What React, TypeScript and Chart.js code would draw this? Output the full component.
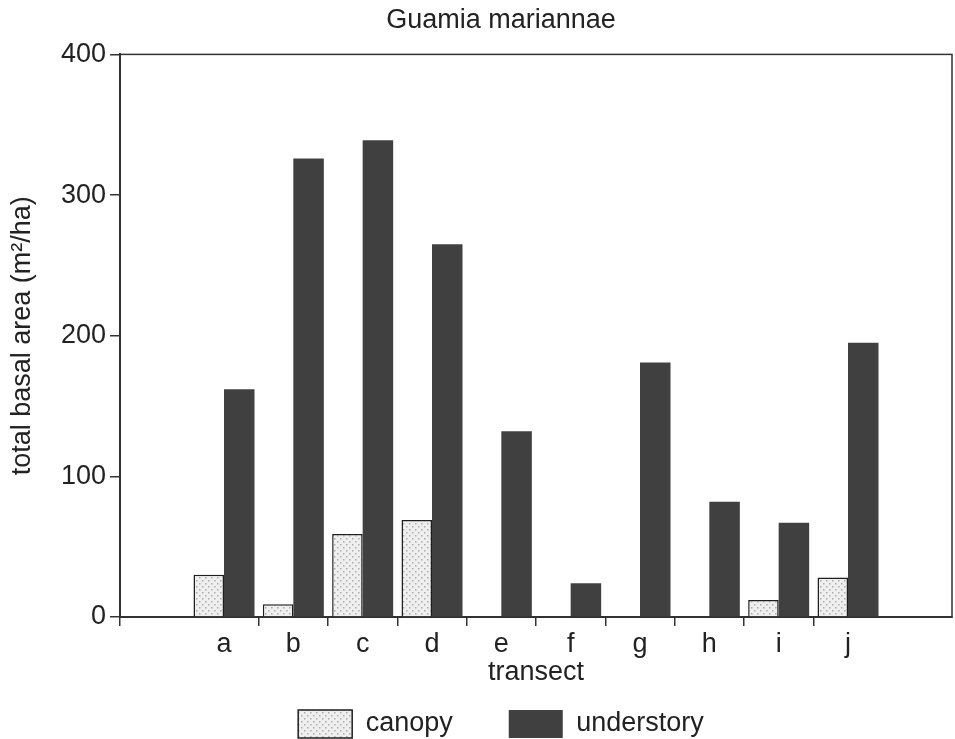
import React, { useEffect, useRef } from 'react';
import { Chart, registerables } from 'chart.js';

Chart.register(...registerables);

const chartTitle = 'Guamia mariannae';
const categories = ['a', 'b', 'c', 'd', 'e', 'f', 'g', 'h', 'i', 'j'];
const canopy = [30, 9, 59, 69, 0, 0, 0, 0, 12, 28];
const understory = [162, 326, 339, 265, 132, 24, 181, 82, 67, 195];
const yTickValues = [0, 100, 200, 300, 400];
const seriesNames = ['canopy', 'understory'];
const xTitle = 'transect';
const yTitle = 'total basal area (m²/ha)';

const FONT = "'Liberation Sans', Arial, Helvetica, sans-serif";
const INK = '#222222';

function makeStipple(): CanvasPattern | string {
  const c = document.createElement('canvas');
  c.width = 6;
  c.height = 6;
  const g = c.getContext('2d');
  if (!g) return '#e6e6e6';
  g.fillStyle = '#efefef';
  g.fillRect(0, 0, 6, 6);
  g.fillStyle = '#acacac';
  g.fillRect(1, 1, 1.5, 1.5);
  g.fillRect(4, 4, 1.5, 1.5);
  const p = g.createPattern(c, 'repeat');
  return p || '#e6e6e6';
}

const framePlugin = {
  id: 'plotFrame',
  beforeDatasetsDraw(chart: any) {
    const { ctx, chartArea } = chart;
    const { left, top, right, bottom } = chartArea;
    ctx.save();
    ctx.strokeStyle = '#333';
    ctx.lineWidth = 1.5;
    ctx.strokeRect(left, top, right - left, bottom - top);
    ctx.restore();
  },
};

export default function App() {
  const ref = useRef<HTMLCanvasElement | null>(null);

  useEffect(() => {
    if (!ref.current) return;
    const stipple = makeStipple();
    const labels = ['', ...categories, ''];
    const pad = (arr: number[]) => [null, ...arr, null];
    const chart = new Chart(ref.current, {
      type: 'bar',
      data: {
        labels,
        datasets: [
          {
            label: seriesNames[0],
            data: pad(canopy),
            backgroundColor: stipple as any,
            borderColor: '#1e1e1e',
            borderWidth: 1.5,
            categoryPercentage: 0.88,
            barPercentage: 1.0,
          },
          {
            label: seriesNames[1],
            data: pad(understory),
            backgroundColor: '#404040',
            borderColor: '#404040',
            borderWidth: 0,
            categoryPercentage: 0.88,
            barPercentage: 1.0,
          },
        ],
      },
      options: {
        responsive: false,
        animation: false,
        font: { family: FONT },
        layout: { padding: 0 },
        plugins: {
          title: {
            display: true,
            text: chartTitle,
            color: INK,
            font: { family: FONT, size: 27, weight: 'normal' },
            padding: { top: 4, bottom: 18 },
          },
          legend: {
            display: true,
            position: 'bottom',
            labels: {
              color: INK,
              font: { family: FONT, size: 27 },
              boxWidth: 54,
              boxHeight: 28,
              padding: 2,
              generateLabels: (ch: any) => {
                const items = (Chart.defaults as any).plugins.legend.labels.generateLabels(ch);
                items.forEach((it: any, i: number) => {
                  if (i < items.length - 1) it.text = it.text + '\u2003\u2003';
                });
                return items;
              },
            },
          },
          tooltip: { enabled: false },
        },
        scales: {
          x: {
            type: 'category',
            grid: {
              display: true,
              offset: true,
              drawOnChartArea: false,
              drawTicks: true,
              tickLength: 9,
              lineWidth: 1.5,
              color: (ctx: any) =>
                ctx.index === 0 || (ctx.index >= 2 && ctx.index <= categories.length) ? '#333' : 'rgba(0,0,0,0)',
            },
            border: { display: true, color: '#333', width: 2 },
            ticks: {
              color: INK,
              font: { family: FONT, size: 27 },
              padding: 2,
              maxRotation: 0,
              autoSkip: false,
            },
            title: {
              display: true,
              text: xTitle,
              color: INK,
              font: { family: FONT, size: 27 },
              padding: { top: 0, bottom: 19 },
            },
            afterFit: (s: any) => {
              s.height = 91;
            },
          },
          y: {
            type: 'linear',
            min: 0,
            max: 400,
            afterBuildTicks: (s: any) => {
              s.ticks = yTickValues.map((v) => ({ value: v }));
            },
            grid: {
              display: true,
              drawOnChartArea: false,
              drawTicks: true,
              tickLength: 10,
              lineWidth: 1.5,
              color: '#333',
            },
            border: { display: true, color: '#333', width: 2 },
            ticks: {
              color: INK,
              font: { family: FONT, size: 27 },
              padding: 4,
            },
            title: {
              display: true,
              text: yTitle,
              color: INK,
              font: { family: FONT, size: 27 },
              padding: { top: 6, bottom: 4 },
            },
            afterFit: (s: any) => {
              s.width = 120;
            },
          },
          yRight: {
            type: 'linear',
            position: 'right',
            display: true,
            grid: { display: false, drawTicks: false },
            border: { display: false },
            ticks: { display: false },
            afterFit: (s: any) => {
              s.width = 50;
            },
          },
        },
      } as any,
      plugins: [framePlugin],
    });
    return () => chart.destroy();
  }, []);

  return (
    <div
      style={{
        position: 'fixed',
        left: 0,
        top: 0,
        width: 955,
        height: 739,
        overflow: 'hidden',
        background: '#ffffff',
      }}
    >
      <canvas ref={ref} width={1002} height={748} style={{ width: 1002, height: 748, display: 'block' }} />
    </div>
  );
}
